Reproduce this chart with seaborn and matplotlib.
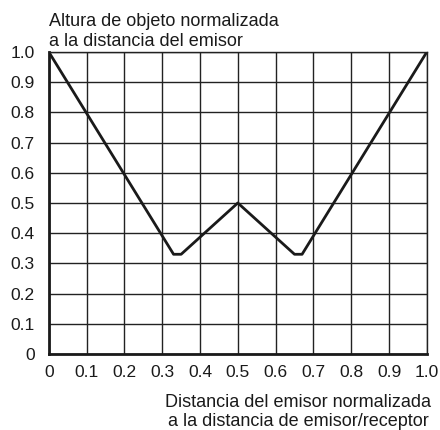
import matplotlib
matplotlib.use("Agg")
import matplotlib.pyplot as plt
import seaborn as sns
import pandas as pd

# datos de la curva
distancia = [0.0, 0.33, 0.35, 0.5, 0.65, 0.67, 1.0]
altura = [1.0, 0.33, 0.33, 0.5, 0.33, 0.33, 1.0]
ticks = [0.0, 0.1, 0.2, 0.3, 0.4, 0.5, 0.6, 0.7, 0.8, 0.9, 1.0]
tick_labels = ["0", "0.1", "0.2", "0.3", "0.4", "0.5", "0.6", "0.7", "0.8", "0.9", "1.0"]

data = pd.DataFrame({"x": distancia, "y": altura})

sns.set_style("white")
plt.rcParams['font.family'] = ['Liberation Sans', 'DejaVu Sans']

fig = plt.figure(figsize=(4.4, 4.3), dpi=100)
ax = fig.add_axes([0.111, 0.177, 0.859, 0.702])

sns.lineplot(data=data, x="x", y="y", sort=False, color="#1a1a1a", linewidth=2.0, ax=ax)

ax.set_xlim(0, 1.0)
ax.set_ylim(0, 1.0)
ax.set_xticks(ticks)
ax.set_yticks(ticks)
ax.set_xticklabels(tick_labels, fontsize=12.5)
ax.set_yticklabels(tick_labels, fontsize=12.5)
ax.tick_params(axis="y", length=0, pad=10, colors="#1a1a1a")
ax.tick_params(axis="x", length=0, pad=8, colors="#1a1a1a")
ax.grid(True, color="#222222", linewidth=1.0)
ax.set_axisbelow(True)
ax.set_xlabel("")
ax.set_ylabel("")

for s in ["left", "bottom"]:
    ax.spines[s].set_linewidth(2.0)
    ax.spines[s].set_color("#1a1a1a")
for s in ["top", "right"]:
    ax.spines[s].set_linewidth(1.0)
    ax.spines[s].set_color("#222222")

fig.text(0.111, 0.927, "Altura de objeto normalizada\na la distancia del emisor",
         fontsize=13, ha="left", va="center", linespacing=1.25, color="#1a1a1a")
fig.text(0.678, 0.042, "Distancia del emisor normalizada\na la distancia de emisor/receptor",
         fontsize=13, ha="center", va="center", linespacing=1.15, color="#1a1a1a")

fig.savefig("out.png", dpi=100)
